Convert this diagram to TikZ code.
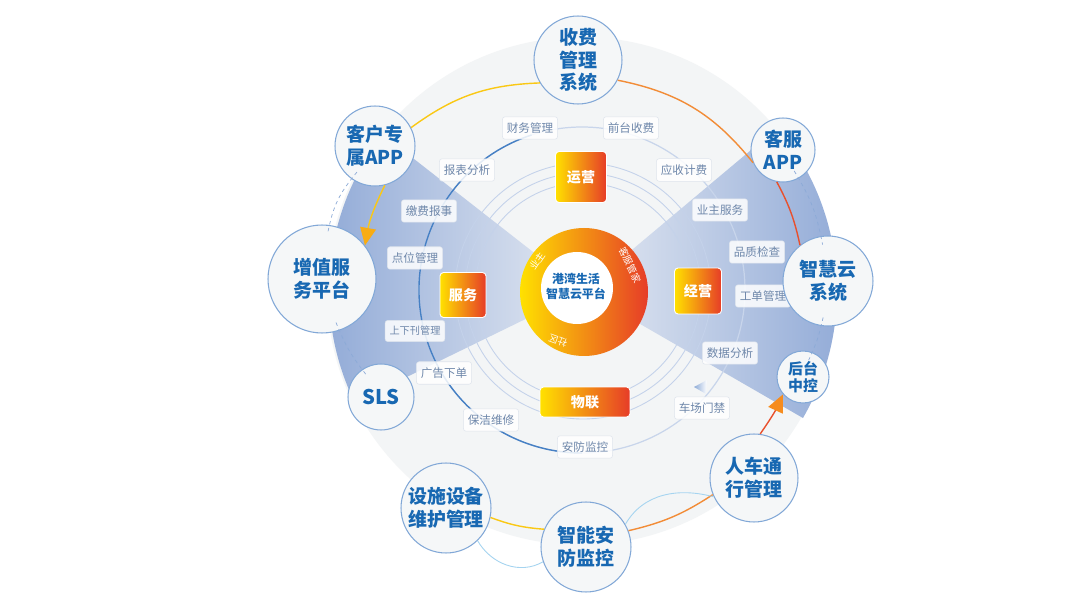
\documentclass[tikz,border=0pt]{standalone}
\usepackage{fontspec}
\setmainfont{Noto Sans CJK SC}
\usetikzlibrary{arrows.meta}
\definecolor{bggray}{RGB}{243,245,246}
\definecolor{wedgeblue}{RGB}{142,168,214}
\definecolor{wedgefade}{RGB}{228,233,242}
\definecolor{hubfill}{RGB}{245,247,248}
\definecolor{hubedge}{RGB}{130,168,215}
\definecolor{hubtext}{RGB}{24,104,178}
\definecolor{tagtext}{RGB}{110,135,170}
\definecolor{tagedge}{RGB}{222,228,236}
\definecolor{ringyellow}{RGB}{255,225,0}
\definecolor{ringorange}{RGB}{243,160,40}
\definecolor{ringred}{RGB}{230,60,40}
\definecolor{flowyellow}{RGB}{250,200,20}
\definecolor{floworange}{RGB}{242,140,55}
\definecolor{flowred}{RGB}{232,80,45}
\definecolor{tipamber}{RGB}{248,172,20}
\definecolor{tiporange}{RGB}{246,140,30}
\definecolor{innerline}{RGB}{196,210,234}
\definecolor{arcdark}{RGB}{70,128,196}
\definecolor{arclight}{RGB}{200,213,235}
\definecolor{hintblue}{RGB}{140,170,215}
\definecolor{softcyan}{RGB}{165,212,240}

\begin{document}
\begin{tikzpicture}[x=0.02cm,y=-0.02cm]
	\tikzset{hub/.style={circle,fill=hubfill,draw=hubedge,line width=0.6pt,text=hubtext,align=center,inner sep=0pt,font=\bfseries\fontsize{10.8}{13}\selectfont}}
	\tikzset{block/.style={rounded corners=2pt,left color=ringyellow,right color=ringred,draw=white,line width=0.5pt,text=white,inner sep=0pt,font=\bfseries\fontsize{8}{9}\selectfont}}
	\tikzset{tag/.style={rounded corners=1.5pt,fill=white,fill opacity=0.85,text opacity=1,draw=tagedge,line width=0.3pt,text=tagtext,inner xsep=2.5pt,minimum height=0.4cm,font=\fontsize{6.6}{7}\selectfont}}
	\tikzset{ringtxt/.style={text=white,inner sep=0pt,font=\fontsize{5.4}{5}\selectfont}}
	\tikzset{flow/.style={line width=0.8pt}}
	\tikzset{hint/.style={draw=hintblue,line width=0.4pt,dash pattern=on 2pt off 2pt,shorten <=-5pt,shorten >=-5pt}}
	% Backdrop
	\fill[white] (0,0) rectangle (1080,608);
	\useasboundingbox (0,0) rectangle (1080,608);
	\fill[bggray] (581,291) circle[radius=254];
	\shade[left color=wedgeblue,right color=wedgefade] (583,291) -- +(154:254) arc[start angle=154,end angle=218,radius=254] -- cycle;
	\shade[left color=wedgefade,right color=wedgeblue] (583,291) -- +(-40:254) arc[start angle=-40,end angle=30,radius=254] -- cycle;
	\foreach \r in {108,118,128}
		\draw[innerline,line width=0.5pt] (583,291) circle[radius=\r];
	\draw[arclight,line width=0.7pt] (582,290) circle[radius=163];
	\draw[arcdark,line width=0.8pt] (582,290) ++(252:163) arc[start angle=252,end angle=90,radius=163];
	\shade[left color=hintblue,right color=white] (694,387) -- (707,380) -- (706,394) -- cycle;
	% Core ring
	\shade[left color=ringyellow,middle color=ringorange,right color=ringred] (584,292) circle[radius=64];
	\fill[white] (577,288) circle[radius=36];
	\node[align=center,text=hubtext,font=\bfseries\fontsize{6.8}{8.5}\selectfont] (core) at (576,286) {港湾生活\\智慧云平台};
	\node[ringtxt,rotate=55] (yezhu) at (537,261) {业主};
	\node[ringtxt,rotate=-65] (guanjia) at (630,265) {客服管家};
	\node[ringtxt,rotate=160] (shequ) at (558,341) {社区};
	% Place Nodes
	\node[block,minimum width=1.02cm,minimum height=1.02cm] (yunying) at (581,177) {运营};
	\node[block,minimum width=0.92cm,minimum height=0.9cm] (fuwu) at (463,295) {服务};
	\node[block,minimum width=0.94cm,minimum height=0.92cm] (jingying) at (698,291) {经营};
	\node[block,minimum width=1.8cm,minimum height=0.6cm] (wulian) at (585,402) {物联};
	% Label nodes
	\node[tag] (caiwu) at (530,128) {财务管理};
	\node[tag] (qiantai) at (631,128) {前台收费};
	\node[tag] (yingshou) at (684,170) {应收计费};
	\node[tag] (yezhufw) at (720,210) {业主服务};
	\node[tag] (pinzhi) at (757,252) {品质检查};
	\node[tag] (gongdan) at (763,296) {工单管理};
	\node[tag] (shuju) at (730,353) {数据分析};
	\node[tag] (chechang) at (702,408) {车场门禁};
	\node[tag] (anfangjk) at (585,447) {安防监控};
	\node[tag] (baojie) at (491,420) {保洁维修};
	\node[tag] (guanggao) at (444,373) {广告下单};
	\node[tag,font=\fontsize{5.8}{6}\selectfont] (kanqi) at (415,331) {上下刊管理};
	\node[tag] (dianwei) at (415,258) {点位管理};
	\node[tag] (jiaofei) at (429,211) {缴费报事};
	\node[tag] (baobiao) at (467,170) {报表分析};
	% Outer systems
	\node[hub,minimum size=1.76cm] (shoufei) at (578,60) {收费\\管理\\系统};
	\node[hub,minimum size=1.6cm] (kehu) at (375,146) {客户专\\属APP};
	\node[hub,minimum size=1.28cm] (kefu) at (783,150) {客服\\APP};
	\node[hub,minimum size=1.8cm] (zhihuiyun) at (828,281) {智慧云\\系统};
	\node[hub,minimum size=1.04cm,font=\bfseries\fontsize{8.5}{9.6}\selectfont] (houtai) at (803,377) {后台\\中控};
	\node[hub,minimum size=1.76cm] (renche) at (754,478) {人车通\\行管理};
	\node[hub,minimum size=1.8cm] (anfang) at (586,547) {智能安\\防监控};
	\node[hub,minimum size=1.8cm] (sheshi) at (446,508) {设施设备\\维护管理};
	\node[hub,minimum size=1.32cm,font=\bfseries\fontsize{11.5}{13}\selectfont] (sls) at (381,397) {SLS};
	\node[hub,minimum size=2.16cm] (zengzhi) at (322,279) {增值服\\务平台};
	% Draw flow paths
	\draw[flow,flowyellow] (kehu.27) to[bend left=17] (shoufei.211);
	\draw[flow,floworange] (shoufei.-27) to[bend left=20] (kefu.203);
	\draw[flow,flowred] (kefu.-101) to[bend left=8] (zhihuiyun.128);
	\draw[flow,flowyellow,-{Triangle[length=10pt,width=9pt,color=tipamber]}] (kehu.-76) to[bend right=8] (zengzhi.38);
	\draw[flow,flowred,-{Triangle[length=10pt,width=9pt,color=tiporange]}] (renche.82) to[bend right=5] (houtai.221);
	\draw[flow,flowyellow] (sheshi.-12) to[bend right=8] (anfang.157);
	\draw[flow,floworange] (anfang.21) to[bend right=10] (renche.202);
	\draw[softcyan,line width=0.5pt] (sheshi.-46) to[out=-60,in=-150] (anfang.199);
	\draw[softcyan,line width=0.5pt] (anfang.30) to[out=60,in=165] (renche.205);
	\draw[hint] (kehu) to[bend right=14] (zengzhi);
	\draw[hint] (zengzhi) to[bend right=8] (sls);
	\draw[hint] (kefu) to[bend left=10] (zhihuiyun);
	\draw[hint] (zhihuiyun) to[bend left=6] (houtai);
\end{tikzpicture}
\end{document}
